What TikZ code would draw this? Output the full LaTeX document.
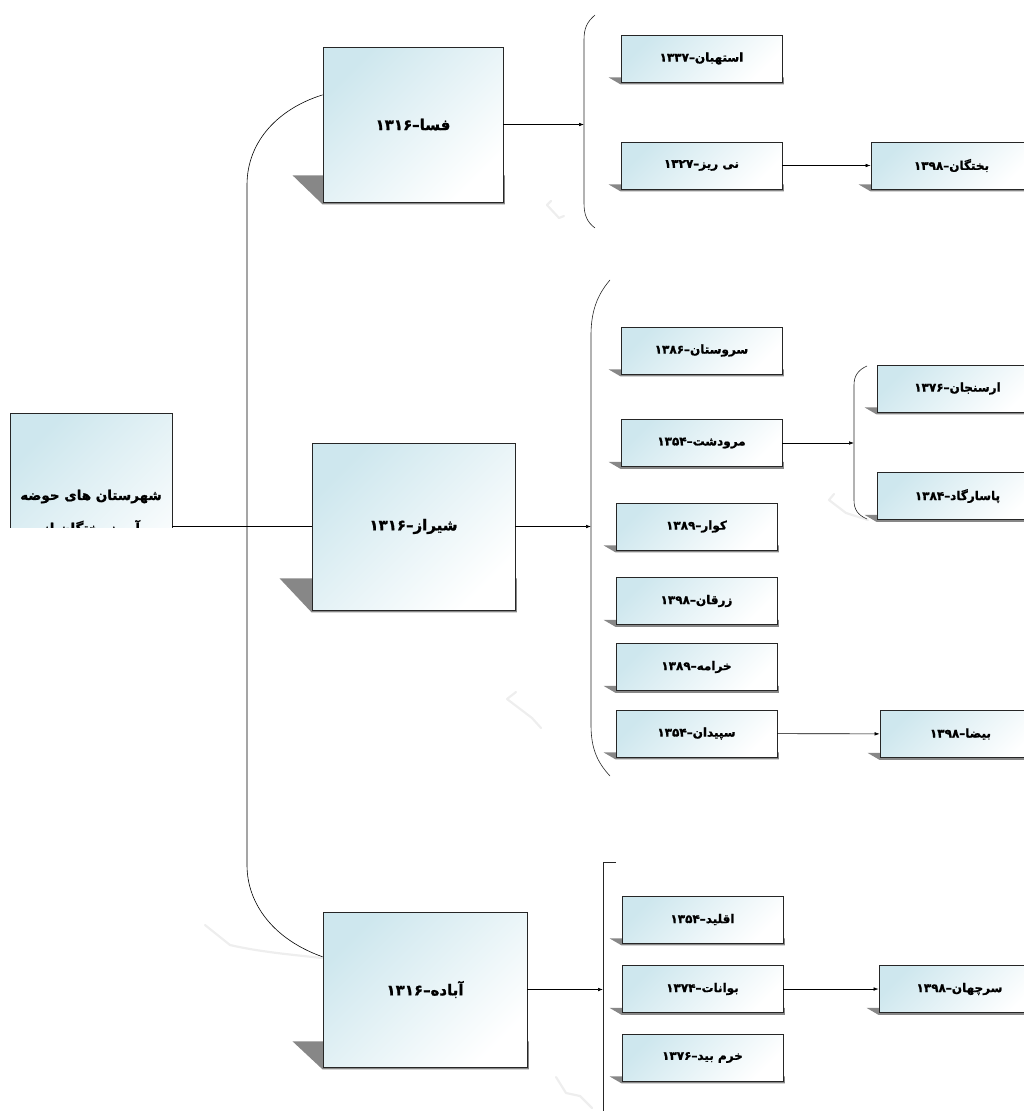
\documentclass[tikz,border=0pt]{standalone}
\usepackage{fontspec}
\usetikzlibrary{arrows.meta,calc,backgrounds}
\newfontfamily\arabicfont[Script=Arabic,BoldFeatures={FakeBold=1.2}]{DejaVu Sans}
\TeXXeTstate=1
\definecolor{boxblue}{RGB}{206,231,238}
\definecolor{shadowgray}{RGB}{135,135,135}
\definecolor{ghostgray}{RGB}{238,238,238}
% skewed drop shadow behind a named box
\newcommand\castshadow[3]{%
  \fill[shadowgray] ($(#1.south west)+(-#2,-#3)$) -- ($(#1.south east)+(1.5,-#3)$)
    -- ($(#1.south east)+(1.5,2)$) -- ($(#1.south west)+(0,2)$) -- cycle;}

\begin{document}
\begin{tikzpicture}[x=1pt,y=-1pt,>=Stealth,
  basebox/.style={draw=black!85,line width=0.8pt,top color=boxblue,
    bottom color=white,shading angle=45,inner sep=2pt,
    font=\arabicfont\bfseries},
  leafbox/.style={basebox,minimum width=161pt,minimum height=47pt,
    font=\arabicfont\bfseries\fontsize{12}{14}\selectfont},
  citybox/.style={basebox,minimum height=155pt,
    font=\arabicfont\bfseries\fontsize{15}{17}\selectfont},
  rootbox/.style={basebox,minimum width=162pt,minimum height=200pt,align=center,
    font=\arabicfont\bfseries\fontsize{13.5}{33}\selectfont},
  arrow/.style={-{Latex[length=5pt,width=3.6pt]},line width=0.6pt,draw=black},
  link/.style={line width=0.6pt,draw=black},
  bracket/.style={line width=0.6pt,draw=black!85},
  ghost/.style={line width=2.2pt,draw=ghostgray,line cap=round,line join=round}]
\clip (0,0) rectangle (1024,1111);

% root (cut off at the bottom)
\begin{scope}
  \clip (0,0) rectangle (1024,527);
  \node[rootbox] (root) at (91,513)
    {\beginR شهرستان های حوضه\endR\\\beginR آبریز بختگان از\endR};
\end{scope}

% county boxes
\node[citybox,minimum width=180pt] (fasa) at (413,124.5) {\beginR فسا–۱۳۱۶\endR};
\node[citybox,minimum width=203pt,minimum height=167pt] (shiraz) at (413.5,526.5)
  {\beginR شیراز–۱۳۱۶\endR};
\node[citybox,minimum width=204pt] (abadeh) at (425,989.5) {\beginR آباده–۱۳۱۶\endR};

% fasa branch
\node[leafbox] (istahban) at (701.5,58.5) {\beginR استهبان–۱۳۳۷\endR};
\node[leafbox] (neyriz) at (701.5,165.5) {\beginR نی ریز–۱۳۲۷\endR};
\node[leafbox] (bakhtegan) at (951.5,165.5) {\beginR بختگان–۱۳۹۸\endR};

% shiraz branch
\node[leafbox] (sarvestan) at (701.5,350.5) {\beginR سروستان–۱۳۸۶\endR};
\node[leafbox] (marvdasht) at (701.5,443) {\beginR مرودشت–۱۳۵۴\endR};
\node[leafbox] (kavar) at (696.5,526.5) {\beginR کوار–۱۳۸۹\endR};
\node[leafbox] (zarghan) at (696.5,601) {\beginR زرقان–۱۳۹۸\endR};
\node[leafbox] (kharameh) at (696.5,667) {\beginR خرامه–۱۳۸۹\endR};
\node[leafbox] (sepidan) at (696.5,733.5) {\beginR سپیدان–۱۳۵۴\endR};
\node[leafbox] (arsanjan) at (957.5,388.5) {\beginR ارسنجان–۱۳۷۶\endR};
\node[leafbox] (pasargad) at (957.5,496) {\beginR پاسارگاد–۱۳۸۴\endR};
\node[leafbox] (beyza) at (960.5,734) {\beginR بیضا–۱۳۹۸\endR};

% abadeh branch
\node[leafbox] (eghlid) at (702.5,919.5) {\beginR اقلید–۱۳۵۴\endR};
\node[leafbox] (bavanat) at (702.5,989) {\beginR بوانات–۱۳۷۴\endR};
\node[leafbox] (khorrambid) at (702.5,1057.5) {\beginR خرم بید–۱۳۷۶\endR};
\node[leafbox] (sarchahan) at (959.5,989) {\beginR سرچهان–۱۳۹۸\endR};

% shadows and faint traces
\begin{scope}[on background layer]
  \castshadow{fasa}{30}{27}
  \castshadow{shiraz}{32}{32}
  \castshadow{abadeh}{30}{26}
  \foreach \b in {istahban,neyriz,bakhtegan,sarvestan,marvdasht,kavar,zarghan,
    kharameh,sepidan,arsanjan,pasargad,beyza,eghlid,bavanat,khorrambid,sarchahan}
    {\castshadow{\b}{12}{5}}
  \draw[ghost] (551,201) -- (547,205) -- (559,218) -- (564,216);
  \draw[ghost] (834,494) -- (829,500) -- (846,513) -- (868,520);
  \draw[ghost] (516,692) -- (507,699) -- (532,718) -- (541,728);
  \draw[ghost] (205,925) -- (230,945) .. controls (260,952) and (295,955) .. (322,958);
  \draw[ghost] (556,1077) -- (566,1093) -- (580,1096) -- (592,1108);
\end{scope}

% brackets
\draw[bracket] (595,15) .. controls (587,22) and (584,28) .. (584,40) -- (584,203)
  .. controls (584,215) and (587,222) .. (595,228);
\draw[bracket] (610,280) .. controls (597,295) and (591,312) .. (591,335) -- (591,725)
  .. controls (591,748) and (597,762) .. (610,776);
\draw[bracket] (867,366) .. controls (858,370) and (854,376) .. (854,385) -- (854,500)
  .. controls (854,510) and (858,515) .. (867,519);
\draw[bracket] (616,862) -- (603,862) -- (603,1111);
\coordinate (fasabr) at (584,124.5);
\coordinate (shirazbr) at (591,526.5);
\coordinate (marvbr) at (854,443);
\coordinate (abadehbr) at (603,989.5);

% trunk from the root
\coordinate (trunktop) at (247,185);
\coordinate (trunkbot) at (247,865);
\draw[link] (root.east |- shiraz.west) -- (shiraz.west);
\draw[link] ($(fasa.north west)!0.31!(fasa.south west)$)
  .. controls (280,108) and (247,140) .. (trunktop) -- (trunkbot)
  .. controls (247,905) and (275,940) .. ($(abadeh.north west)!0.29!(abadeh.south west)$);

% arrows
\draw[arrow] (fasa.east) -- (fasabr);
\draw[arrow] (shiraz.east) -- (shirazbr);
\draw[arrow] (abadeh.east) -- (abadehbr);
\draw[arrow] (neyriz) -- (bakhtegan);
\draw[arrow] (marvdasht.east) -- (marvbr);
\draw[arrow] (sepidan) -- (beyza);
\draw[arrow] (bavanat) -- (sarchahan);
\end{tikzpicture}
\end{document}
